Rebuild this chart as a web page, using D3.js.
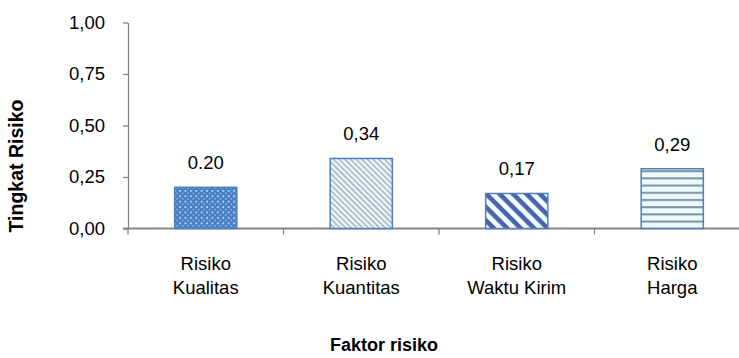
<!DOCTYPE html>
<html>
<head>
<meta charset="utf-8">
<script src="https://cdn.jsdelivr.net/npm/d3@7/dist/d3.min.js"></script>
<style>
  html, body { margin: 0; padding: 0; background: #fff; }
  svg { display: block; font-family: "Liberation Sans", Arial, sans-serif; }
</style>
</head>
<body>
<svg id="chart" width="739" height="358"></svg>
<script>
// Risk factors and their risk level
const categories = [["Risiko", "Kualitas"], ["Risiko", "Kuantitas"], ["Risiko", "Waktu Kirim"], ["Risiko", "Harga"]];
const values = [0.20, 0.34, 0.17, 0.29];
const valueLabels = ["0.20", "0,34", "0,17", "0,29"];
const yTicks = [0, 0.25, 0.5, 0.75, 1.0];
const yTickLabels = ["0,00", "0,25", "0,50", "0,75", "1,00"];
const patterns = ["dots", "thinDiag", "wideDiag", "horiz"];

const svg = d3.select("#chart");
const axisColor = "#868686";
const borderColor = "#4f81bd";
const fontSize = "18.5px";

const x0 = 128, x1 = 750, yTop = 22.5, yBase = 228.5;
const x = d3.scaleBand().domain(d3.range(categories.length)).range([x0, x1]).paddingInner(0.6).paddingOuter(0.3);
const y = d3.scaleLinear().domain([0, 1]).range([yBase, yTop]);

// Fill patterns
const defs = svg.append("defs");
const pDots = defs.append("pattern").attr("id", "dots").attr("patternUnits", "userSpaceOnUse").attr("width", 5.4).attr("height", 5.4);
pDots.append("rect").attr("width", 5.4).attr("height", 5.4).attr("fill", "#4a7ec4");
pDots.append("rect").attr("x", 1).attr("y", 1).attr("width", 1.8).attr("height", 1.8).attr("fill", "#b8def6");
pDots.append("rect").attr("x", 3.7).attr("y", 3.7).attr("width", 1.5).attr("height", 1.5).attr("fill", "#90c4ea");

const pThin = defs.append("pattern").attr("id", "thinDiag").attr("patternUnits", "userSpaceOnUse")
  .attr("width", 4).attr("height", 4).attr("patternTransform", "rotate(45)");
pThin.append("rect").attr("width", 4).attr("height", 4).attr("fill", "#ecf9fd");
pThin.append("rect").attr("width", 4).attr("height", 1.5).attr("fill", "#a0b0bc");

const pWide = defs.append("pattern").attr("id", "wideDiag").attr("patternUnits", "userSpaceOnUse")
  .attr("width", 9.5).attr("height", 9.5).attr("patternTransform", "rotate(45)");
pWide.append("rect").attr("width", 9.5).attr("height", 9.5).attr("fill", "#f2fbff");
pWide.append("rect").attr("width", 9.5).attr("height", 4.6).attr("fill", "#4a64a8");

const pHoriz = defs.append("pattern").attr("id", "horiz").attr("patternUnits", "userSpaceOnUse")
  .attr("width", 8).attr("height", 7.2).attr("y", 0);
pHoriz.append("rect").attr("width", 8).attr("height", 7.2).attr("fill", "#ecfbff");
pHoriz.append("rect").attr("y", 4.6).attr("width", 8).attr("height", 2).attr("fill", "#7f91a0");

// Y axis
const yAxis = d3.axisLeft(y).tickValues(yTicks).tickFormat((d, i) => yTickLabels[i]).tickSize(5).tickSizeOuter(0).tickPadding(18);
const gy = svg.append("g").attr("transform", `translate(${x0},0)`).call(yAxis);
gy.select(".domain").attr("stroke", axisColor).attr("stroke-width", 1.3);
gy.selectAll(".tick line").attr("stroke", axisColor).attr("stroke-width", 1.3);
gy.selectAll(".tick text").attr("fill", "#000").style("font-size", fontSize).style("font-family", "Liberation Sans, Arial, sans-serif");

// X axis baseline with separators between categories
svg.append("line").attr("x1", x0 - 5).attr("x2", x1).attr("y1", yBase).attr("y2", yBase)
  .attr("stroke", axisColor).attr("stroke-width", 2);
const seps = d3.range(categories.length + 1).map(i => x0 + i * (x1 - x0) / categories.length);
svg.selectAll("line.sep").data(seps).join("line").attr("class", "sep")
  .attr("x1", d => d).attr("x2", d => d).attr("y1", yBase).attr("y2", yBase + 6)
  .attr("stroke", axisColor).attr("stroke-width", 1.3);

// Bars
svg.selectAll("rect.bar").data(values).join("rect").attr("class", "bar")
  .attr("x", (d, i) => x(i)).attr("width", x.bandwidth())
  .attr("y", d => y(d)).attr("height", d => yBase - y(d))
  .attr("fill", (d, i) => `url(#${patterns[i]})`)
  .attr("stroke", borderColor).attr("stroke-width", 1.5);

// Value labels
svg.selectAll("text.val").data(values).join("text").attr("class", "val")
  .attr("x", (d, i) => x(i) + x.bandwidth() / 2).attr("y", d => y(d) - 18)
  .attr("text-anchor", "middle").style("font-size", fontSize).attr("fill", "#000")
  .text((d, i) => valueLabels[i]);

// Category labels
const cat = svg.selectAll("text.cat").data(categories).join("text").attr("class", "cat")
  .attr("text-anchor", "middle").style("font-size", fontSize).attr("fill", "#000");
cat.selectAll("tspan").data((d, i) => d.map(t => ({ t, i }))).join("tspan")
  .attr("x", d => x(d.i) + x.bandwidth() / 2)
  .attr("y", (d, j) => 270 + j * 23.5)
  .text(d => d.t);

// Axis titles
svg.append("text").attr("x", 384).attr("y", 351).attr("text-anchor", "middle")
  .style("font-size", "18px").style("font-weight", "bold").text("Faktor risiko");
svg.append("text").attr("transform", "translate(23,166) rotate(-90)").attr("text-anchor", "middle")
  .style("font-size", "19.5px").style("font-weight", "bold").text("Tingkat Risiko");
</script>
</body>
</html>
